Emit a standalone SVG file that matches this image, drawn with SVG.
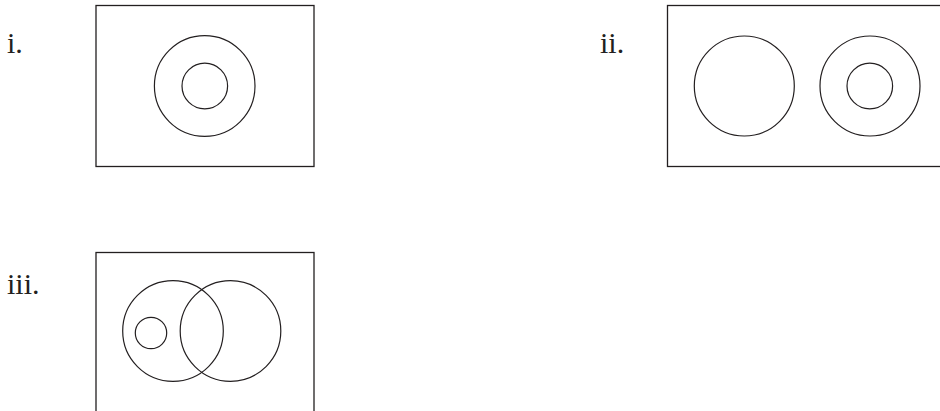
<svg xmlns="http://www.w3.org/2000/svg" width="940" height="411" viewBox="0 0 940 411">
<style>
.box{fill:none;stroke:#231f20;stroke-width:1.3}
.c{fill:none;stroke:#231f20;stroke-width:1.2}
.lbl{font-family:"Liberation Serif","Times New Roman",serif;font-size:30px;fill:#231f20}
</style>
<rect width="940" height="411" fill="#ffffff"/>
<g id="diagram-i">
<text class="lbl" x="7" y="53">i.</text>
<rect class="box" x="96" y="5.5" width="218" height="161"/>
<circle class="c" cx="204.7" cy="86" r="50.3"/>
<circle class="c" cx="204.8" cy="86" r="22.8"/>
</g>
<g id="diagram-ii">
<text class="lbl" x="600" y="53">ii.</text>
<rect class="box" x="667.5" y="5.5" width="280" height="161"/>
<circle class="c" cx="744.3" cy="86" r="50"/>
<circle class="c" cx="870" cy="86" r="50"/>
<circle class="c" cx="869.8" cy="86" r="22.8"/>
</g>
<g id="diagram-iii">
<text class="lbl" x="7" y="294">iii.</text>
<rect class="box" x="96" y="252.5" width="218" height="170"/>
<circle class="c" cx="173" cy="331" r="50.3"/>
<circle class="c" cx="230.5" cy="331" r="50.3"/>
<circle class="c" cx="151" cy="333" r="15.7"/>
</g>
<g id="connectors"></g>
</svg>
